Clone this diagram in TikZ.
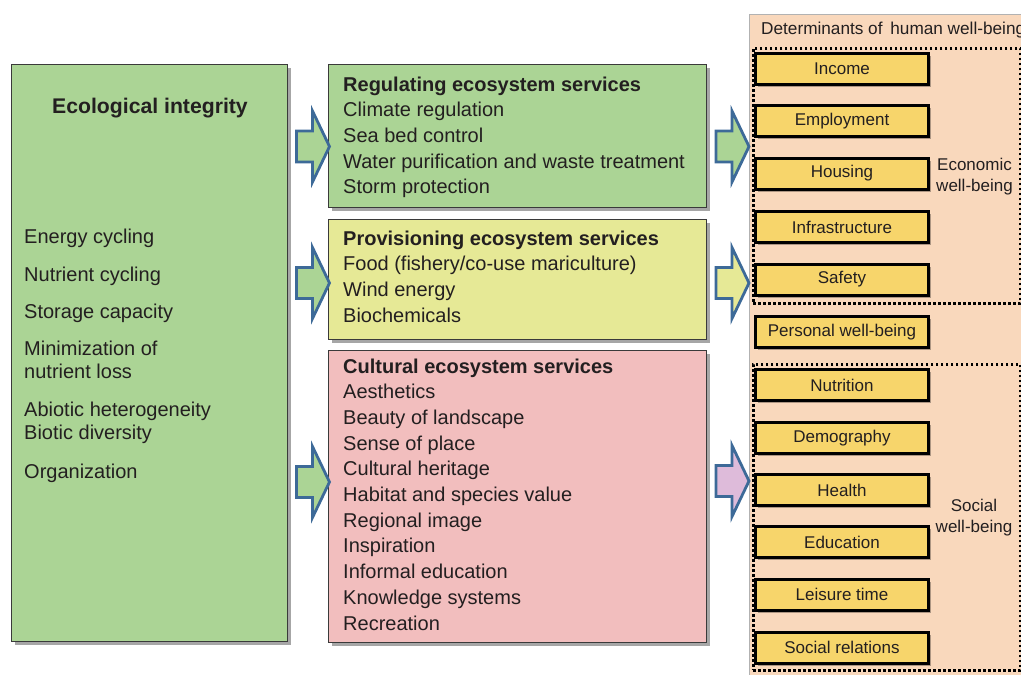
\documentclass[tikz,border=0pt]{standalone}
\usepackage{fontspec}
\setmainfont{Liberation Sans}
\usetikzlibrary{shadows,calc}
\definecolor{ecogreen}{HTML}{ABD495}
\definecolor{provyellow}{HTML}{E6E996}
\definecolor{cultpink}{HTML}{F2BEBE}
\definecolor{salmonbg}{HTML}{F9D8BC}
\definecolor{boxyellow}{HTML}{F7D56B}
\definecolor{arrowblue}{HTML}{3D6A98}
\definecolor{arrowpink}{HTML}{DEBBDA}
\definecolor{txt}{HTML}{231F20}
\definecolor{boxline}{HTML}{3A3A3A}
\newcommand\blockarrow[2]{\draw[arrowline,fill=#2] (#1) -- ++(-17,-35.5) -- ++(0,20) -- ++(-16,0) -- ++(0,31) -- ++(16,0) -- ++(0,20) -- cycle;}
\begin{document}
\begin{tikzpicture}[x=1pt,y=-1pt,
  bigbox/.style={draw=boxline,line width=1pt,anchor=north west,inner sep=0pt,
    drop shadow={shadow xshift=3pt,shadow yshift=-3pt,opacity=0.35,fill=black}},
  dotbox/.style={draw=black,line width=2.6pt,dash pattern=on 2.6pt off 2.4pt,anchor=north west,inner sep=0pt},
  ybox/.style={draw=black,line width=3pt,fill=boxyellow,minimum width=173pt,minimum height=31pt,inner sep=0pt,
    text=txt,font=\fontsize{17}{19}\selectfont,
    drop shadow={shadow xshift=2.5pt,shadow yshift=-2.5pt,opacity=0.3,fill=black}},
  body/.style={anchor=base west,inner sep=0pt,text=txt,font=\fontsize{20}{23}\selectfont},
  head/.style={anchor=base west,inner sep=0pt,text=txt,font=\fontsize{20}{23}\selectfont\bfseries},
  lab/.style={anchor=base,inner sep=0pt,text=txt,font=\fontsize{17}{19}\selectfont},
  arrowline/.style={draw=arrowblue,line width=2.8pt,line join=miter}]
\useasboundingbox (0,0) rectangle (1021,675);
\clip (0,0) rectangle (1021,675);

% right background
\node[anchor=north west,draw=black!30,line width=0.8pt,fill=salmonbg,minimum width=300pt,minimum height=700pt,inner sep=0pt] (det) at (749,14) {};
\node[anchor=base west,inner sep=0pt,text=txt,font=\fontsize{17.2}{19}\selectfont] (dett) at (761,34) {Determinants of\hspace{3pt} human well-being};
\node[dotbox,minimum width=267pt,minimum height=255pt] (econ) at (752,47) {};
\node[dotbox,minimum width=267pt,minimum height=306pt] (soc) at (752,363) {};

% left box
\node[bigbox,fill=ecogreen,minimum width=276pt,minimum height=577pt] (eco) at (11,64) {};
\node[anchor=base,inner sep=0pt,text=txt,font=\fontsize{21.2}{24}\selectfont\bfseries] (ecot) at (150,113) {Ecological integrity};
\node[body] (l1) at (24,243) {Energy cycling};
\node[body] (l2) at (24,281) {Nutrient cycling};
\node[body] (l3) at (24,318) {Storage capacity};
\node[body] (l4) at (24,355) {Minimization of};
\node[body] (l5) at (24,378) {nutrient loss};
\node[body] (l6) at (24,416) {Abiotic heterogeneity};
\node[body] (l7) at (24,439) {Biotic diversity};
\node[body] (l8) at (24,478) {Organization};

% middle boxes
\node[bigbox,fill=ecogreen,minimum width=378pt,minimum height=143pt] (reg) at (328,64) {};
\node[bigbox,fill=provyellow,minimum width=378pt,minimum height=120pt] (prov) at (328,219) {};
\node[bigbox,fill=cultpink,minimum width=378pt,minimum height=292pt] (cult) at (328,350) {};

\node[head] (regh) at (343,91) {Regulating ecosystem services};
\foreach \t [count=\i] in {Climate regulation,Sea bed control,Water purification and waste treatment,Storm protection}
  \node[body] (reg\i) at (343,91+25.7*\i) {\t};
\node[head] (provh) at (343,245) {Provisioning ecosystem services};
\foreach \t [count=\i] in {Food (fishery/co-use mariculture),Wind energy,Biochemicals}
  \node[body] (prov\i) at (343,245+25.7*\i) {\t};
\node[head] (culth) at (343,373) {Cultural ecosystem services};
\foreach \t [count=\i] in {Aesthetics,Beauty of landscape,Sense of place,Cultural heritage,Habitat and species value,Regional image,Inspiration,Informal education,Knowledge systems,Recreation}
  \node[body] (cult\i) at (343,373+25.7*\i) {\t};

% yellow boxes
\foreach \n/\y/\t in {inc/68.5/Income,emp/121/Employment,hou/173.5/Housing,inf/227/Infrastructure,saf/279.5/Safety,per/332/Personal well-being,nut/385/Nutrition,dem/438/Demography,hea/490/Health,edu/542/Education,lei/594.5/Leisure time,sr/647.5/Social relations}
  \node[ybox] (\n) at (842,\y) {\t};

\node[lab] (ec1) at (974.5,170) {Economic};
\node[lab] (ec2) at (974.5,191) {well-being};
\node[lab] (so1) at (974,511.5) {Social};
\node[lab] (so2) at (974,532.5) {well-being};

% arrows
\path (reg.west |- 0,146.5) ++(1.5,0) coordinate (la1);
\path (prov.west |- 0,283) ++(1.5,0) coordinate (la2);
\path (cult.west |- 0,482) ++(1.5,0) coordinate (la3);
\path (det.west |- 0,146.5) ++(0,0) coordinate (ra1);
\path (det.west |- 0,283) ++(0,0) coordinate (ra2);
\path (det.west |- 0,481) ++(0,0) coordinate (ra3);
\blockarrow{la1}{ecogreen}
\blockarrow{la2}{ecogreen}
\blockarrow{la3}{ecogreen}
\blockarrow{ra1}{ecogreen}
\blockarrow{ra2}{provyellow}
\blockarrow{ra3}{arrowpink}
\end{tikzpicture}
\end{document}
